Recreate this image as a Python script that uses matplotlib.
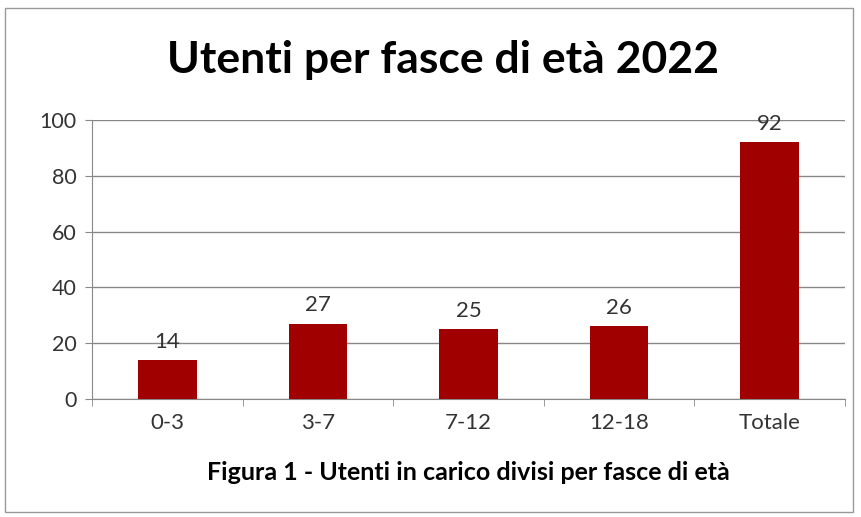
import matplotlib.pyplot as plt

# Data
categories = ['0-3', '3-7', '7-12', '12-18', 'Totale']
values = [14, 27, 25, 26, 92]
y_ticks = [0, 20, 40, 60, 80, 100]

plt.rcParams['font.family'] = ['Lato', 'DejaVu Sans']

fig = plt.figure(figsize=(8.61, 5.17), dpi=100)
ax = fig.add_axes([92 / 861, 1 - 399 / 517, (845 - 92) / 861, (399 - 120) / 517])

x = list(range(len(categories)))
bars = ax.bar(x, values, width=0.39, color='#a00000', zorder=3)

for xi, v in zip(x, values):
    ax.text(xi, v + 3, str(v), ha='center', va='bottom', fontsize=16, color='#333333')

ax.set_xlim(-0.5, len(categories) - 0.5)
ax.set_ylim(0, 100)
ax.set_yticks(y_ticks)
ax.set_yticklabels([str(t) for t in y_ticks], fontsize=15.5, color='#333333')
ax.set_xticks(x)
ax.set_xticklabels(categories, fontsize=16, color='#333333')
ax.tick_params(axis='x', length=0, pad=10)
ax.tick_params(axis='y', length=5, color='#888888', pad=6)

# small ticks between categories
ax.set_xticks([i + 0.5 for i in range(-1, len(categories))], minor=True)
ax.tick_params(axis='x', which='minor', length=5, color='#888888')

ax.grid(axis='y', color='#888888', linewidth=1, zorder=0)
for side in ['top', 'right']:
    ax.spines[side].set_visible(False)
ax.spines['left'].set_color('#888888')
ax.spines['bottom'].set_color('#888888')

fig.text(443 / 861, 1 - 60 / 517, 'Utenti per fasce di età 2022', ha='center', va='center',
         fontsize=32, fontweight='bold')
fig.text(468 / 861, 1 - 472 / 517, 'Figura 1 - Utenti in carico divisi per fasce di età',
         ha='center', va='center', fontsize=18, fontweight='bold')

# outer border
border = plt.Rectangle((5 / 861, 1 - 512 / 517), 848 / 861, 504 / 517, transform=fig.transFigure,
                       fill=False, edgecolor='#999999', linewidth=1)
fig.patches.append(border)

fig.savefig('out.png', dpi=100)
